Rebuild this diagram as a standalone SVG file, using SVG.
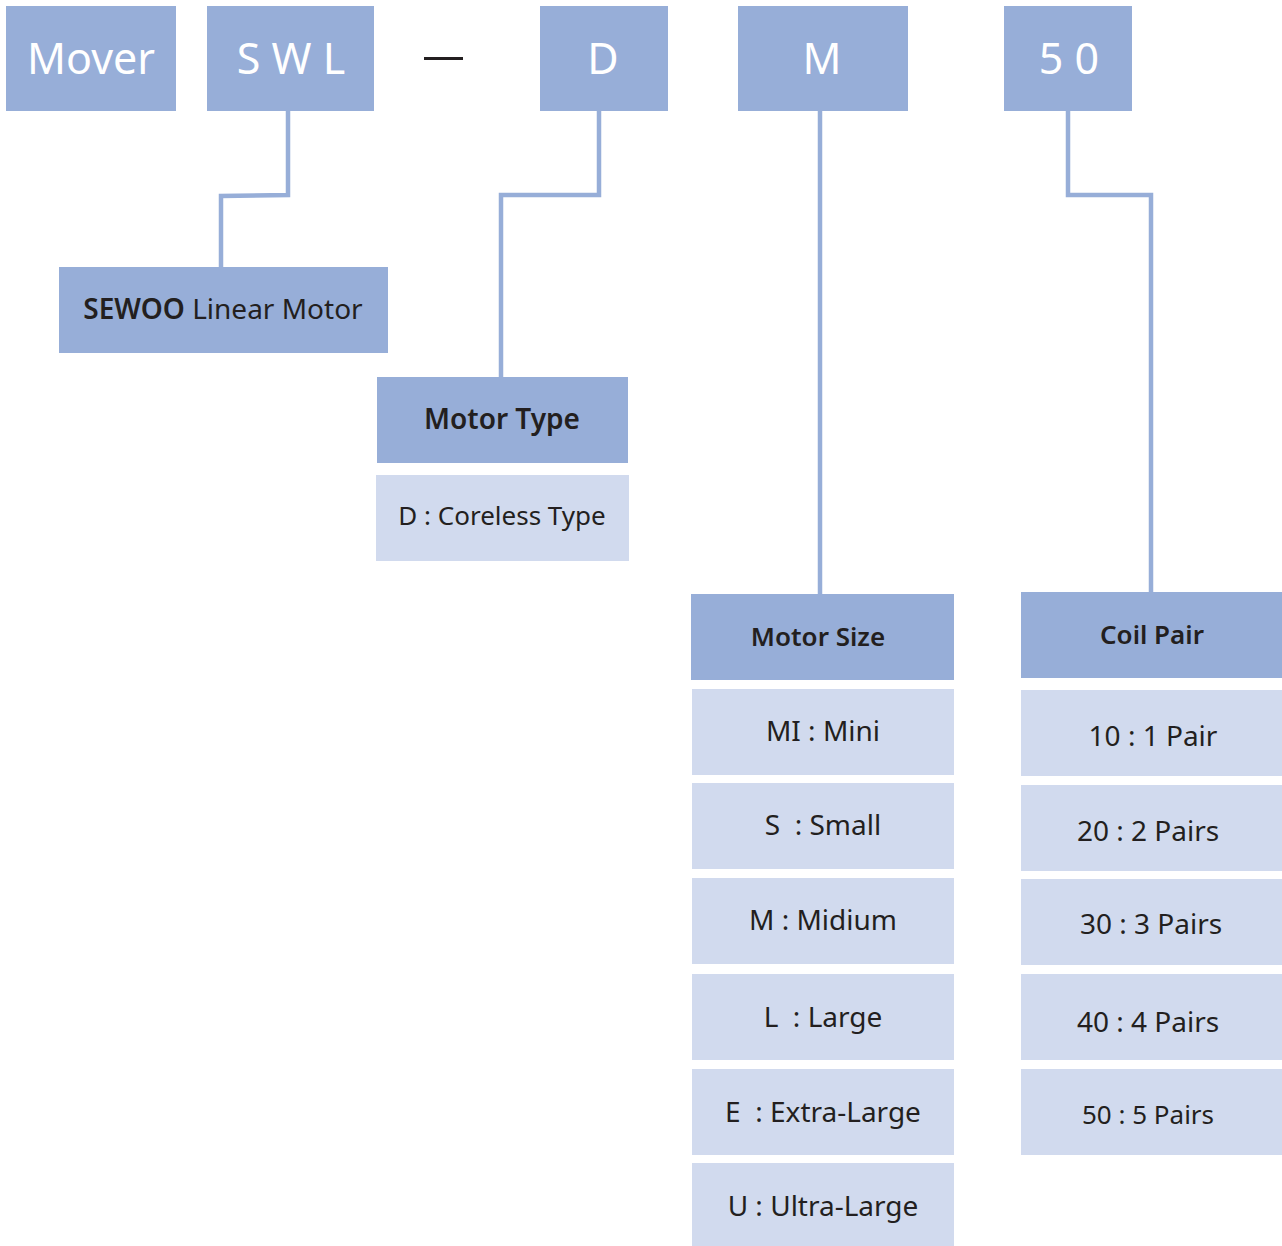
<svg xmlns="http://www.w3.org/2000/svg" width="1282" height="1246" viewBox="0 0 1282 1246">
<style>
.h{fill:#97AED8}
.l{fill:#D1DAEE}
.c{fill:none;stroke:#97AED8;stroke-width:4.5}
text{font-family:"Noto Sans","Open Sans","Liberation Sans",sans-serif;text-anchor:middle;fill:#231F20;white-space:pre}
.w{fill:#FFFFFF;font-size:43px}
.b{font-weight:600;font-size:26px}
.t{font-size:28px}
</style>
<rect width="1282" height="1246" fill="#FFFFFF"/>
<g id="connectors">
<polyline class="c" points="288,111 288,195 221,196 221,267"/>
<polyline class="c" points="599,111 599,195 501,195 501,377"/>
<polyline class="c" points="820,111 820,594"/>
<polyline class="c" points="1068,111 1068,195 1151,195 1151,592"/>
<line x1="424" y1="58.5" x2="463" y2="58.5" stroke="#231F20" stroke-width="3"/>
</g>
<g id="mover"><rect class="h" x="6" y="6" width="170" height="105"/><text class="w" x="91" y="74">Mover</text></g>
<g id="swl"><rect class="h" x="207" y="6" width="167" height="105"/><text class="w" x="291" y="74">S W L</text></g>
<g id="d"><rect class="h" x="540" y="6" width="128" height="105"/><text class="w" x="603" y="74">D</text></g>
<g id="m"><rect class="h" x="738" y="6" width="170" height="105"/><text class="w" x="822" y="74">M</text></g>
<g id="n50"><rect class="h" x="1004" y="6" width="128" height="105"/><text class="w" x="1069" y="74">5 0</text></g>
<g id="sewoo"><rect class="h" x="59" y="267" width="329" height="86"/><text x="223" y="319" style="font-size:28px"><tspan font-weight="600">SEWOO</tspan> Linear Motor</text></g>
<g id="motor-type"><rect class="h" x="377" y="377" width="251" height="86"/><text class="b" x="502" y="429" style="font-size:28px">Motor Type</text></g>
<g id="coreless"><rect class="l" x="376" y="475" width="253" height="86"/><text class="t" x="502" y="525" style="font-size:26px">D : Coreless Type</text></g>
<g id="motor-size"><rect class="h" x="691" y="594" width="263" height="86"/><text class="b" x="818" y="646">Motor Size</text></g>
<g id="size-mi"><rect class="l" x="692" y="689" width="262" height="86"/><text class="t" x="823" y="741">MI : Mini</text></g>
<g id="size-s"><rect class="l" x="692" y="783" width="262" height="86"/><text class="t" x="823" y="835">S  : Small</text></g>
<g id="size-m"><rect class="l" x="692" y="878" width="262" height="86"/><text class="t" x="823" y="930">M : Midium</text></g>
<g id="size-l"><rect class="l" x="692" y="974" width="262" height="86"/><text class="t" x="823" y="1027">L  : Large</text></g>
<g id="size-e"><rect class="l" x="692" y="1069" width="262" height="86"/><text class="t" x="823" y="1122">E  : Extra-Large</text></g>
<g id="size-u"><rect class="l" x="692" y="1163" width="262" height="83"/><text class="t" x="823" y="1216">U : Ultra-Large</text></g>
<g id="coil-pair"><rect class="h" x="1021" y="592" width="261" height="86"/><text class="b" x="1152" y="644">Coil Pair</text></g>
<g id="coil-10"><rect class="l" x="1021" y="690" width="261" height="86"/><text class="t" x="1153" y="746">10 : 1 Pair</text></g>
<g id="coil-20"><rect class="l" x="1021" y="785" width="261" height="86"/><text class="t" x="1148" y="841">20 : 2 Pairs</text></g>
<g id="coil-30"><rect class="l" x="1021" y="879" width="261" height="86"/><text class="t" x="1151" y="934">30 : 3 Pairs</text></g>
<g id="coil-40"><rect class="l" x="1021" y="974" width="261" height="86"/><text class="t" x="1148" y="1032">40 : 4 Pairs</text></g>
<g id="coil-50"><rect class="l" x="1021" y="1069" width="261" height="86"/><text class="t" x="1148" y="1124" style="font-size:26px">50 : 5 Pairs</text></g>
</svg>
